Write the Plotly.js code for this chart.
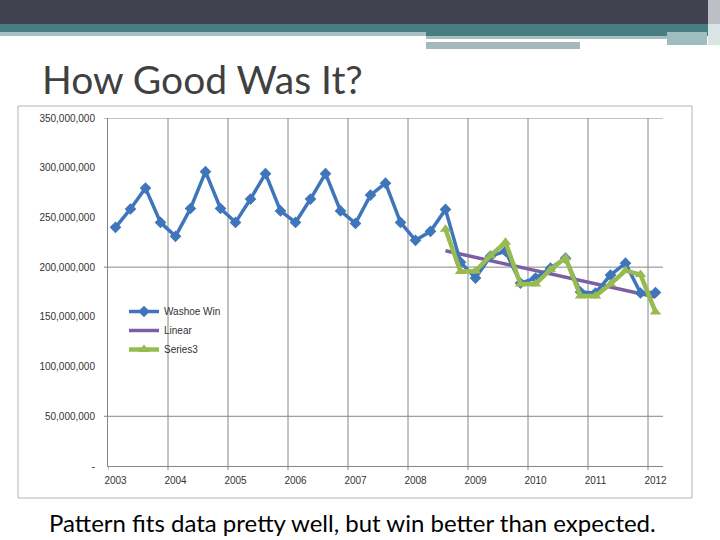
<!DOCTYPE html>
<html><head><meta charset="utf-8">
<script src="https://cdn.plot.ly/plotly-3.0.1.min.js"></script>
<style>html,body{margin:0;padding:0;background:#fff}#chart{width:720px;height:540px}</style>
</head><body><div id="chart"></div>
<script>
// ---- data ----
const years = ['2003','2004','2005','2006','2007','2008','2009','2010','2011','2012'];
const quartersPerYear = 4;
const washoeWin = [240e6, 258.5e6, 279.5e6, 245e6, 231e6, 259e6, 296e6, 259e6, 245e6, 268.5e6,
  294e6, 256.5e6, 245e6, 268.5e6, 294e6, 256.5e6, 244e6, 272.5e6, 284.5e6, 245e6,
  227e6, 236e6, 258e6, 205e6, 189e6, 211e6, 216e6, 184e6, 189e6, 199e6,
  209e6, 175e6, 174e6, 192e6, 204e6, 174e6, 174.5e6];
const series3 = [null, null, null, null, null, null, null, null, null, null,
  null, null, null, null, null, null, null, null, null, null,
  null, null, 238e6, 195.5e6, 196e6, 211.5e6, 225e6, 183e6, 183e6, 197.5e6,
  209.5e6, 171e6, 171e6, 183e6, 196.5e6, 192.5e6, 155e6];
const linearIdx = [22, 36];
const linearVals = [216.5e6, 170e6];
const yTickVals = [0, 50e6, 100e6, 150e6, 200e6, 250e6, 300e6, 350e6];
const yTickText = ['-', '50,000,000', '100,000,000', '150,000,000', '200,000,000', '250,000,000', '300,000,000', '350,000,000'];
const yGridVals = [50e6, 200e6, 350e6];
const titleText = 'How Good Was It?';
const captionText = 'Pattern fits data pretty well, but win better than expected.';

// ---- layout helpers (pixel -> paper) ----
const L = 108, R = 663, T = 118, B = 466;
const X = px => (px - L) / (R - L);
const Y = py => (B - py) / (B - T);
const idx = washoeWin.map((_, i) => i);
const nCat = washoeWin.length;
const yearIdx = years.map((_, i) => i * quartersPerYear);
const gray = '#868686';

const shapes = [];
function rect(x0, x1, y0, y1, fill, line) {
  shapes.push({type: 'rect', xref: 'paper', yref: 'paper', x0: X(x0), x1: X(x1), y0: Y(y0), y1: Y(y1),
    fillcolor: fill, line: line || {width: 0}, layer: 'below'});
}
// slide banner decoration
rect(0, 720, 0, 24, '#41424f');
rect(0, 426, 24, 32, '#467e82');
rect(426, 720, 24, 36, '#467e82');
rect(0, 426, 32, 36, '#a7c0c2');
rect(426, 667, 36, 39, '#a7bec0');
rect(426, 580, 42, 49, '#a5b9bb');
rect(667, 707, 32, 45, '#9fbdbf');
rect(708, 720, 0, 24, '#bdbfc6');
rect(708, 720, 24, 45, '#d9e4e4');
// chart frame
rect(18, 692, 106, 498, 'rgba(0,0,0,0)', {color: '#b4b4b4', width: 1});
// vertical gridlines at year boundaries and their ticks
for (let k = 1; k < years.length; k++) {
  const xv = k * quartersPerYear - 0.5;
  shapes.push({type: 'line', xref: 'x', yref: 'y', x0: xv, x1: xv, y0: 0, y1: 350e6, line: {color: gray, width: 1}, layer: 'below'});
}
for (let k = 0; k < years.length; k++) {
  const xv = k * quartersPerYear - 0.5;
  shapes.push({type: 'line', xref: 'x', yref: 'paper', x0: xv, x1: xv, y0: 0, y1: Y(470), line: {color: gray, width: 1}, layer: 'below'});
}
// horizontal gridlines
yGridVals.forEach(v => {
  shapes.push({type: 'line', xref: 'paper', yref: 'y', x0: X(104), x1: 1, y0: v, y1: v, line: {color: gray, width: 1}, layer: 'below'});
});

const traces = [
  {x: linearIdx, y: linearVals, name: 'Linear', mode: 'lines', legendrank: 2,
    line: {color: '#7b5ea3', width: 3.5}},
  {x: idx, y: washoeWin, name: 'Washoe Win', mode: 'lines+markers', legendrank: 1,
    line: {color: '#3f76bb', width: 3.5}, marker: {symbol: 'diamond', size: 9, color: '#3f76bb'}},
  {x: idx, y: series3, name: 'Series3', mode: 'lines+markers', legendrank: 3,
    line: {color: '#97bb51', width: 4.5}, marker: {symbol: 'triangle-up', size: 10, color: '#97bb51'}}
];

const layout = {
  width: 720, height: 540,
  margin: {l: L, r: 720 - R, t: T, b: 540 - B, pad: 0},
  paper_bgcolor: '#ffffff', plot_bgcolor: 'rgba(0,0,0,0)',
  showlegend: true,
  title: {text: titleText, x: 42 / 720, xanchor: 'left', xref: 'container', y: 1 - 80 / 540, yanchor: 'middle', yref: 'container',
    font: {family: 'Lato, "Open Sans", sans-serif', size: 39, color: '#404040'}},
  xaxis: {range: [-0.5, nCat - 0.5], tickmode: 'array', tickvals: yearIdx, ticktext: years,
    showgrid: false, zeroline: false, showline: true, linecolor: gray, linewidth: 1, ticks: '',
    ticklabelstandoff: 5, tickfont: {family: '"Liberation Sans", Arial, sans-serif', size: 10, color: '#333'}},
  yaxis: {range: [0, 350e6], tickmode: 'array', tickvals: yTickVals, ticktext: yTickText,
    showgrid: false, zeroline: false, showline: true, linecolor: gray, linewidth: 1, ticks: '',
    ticklabelstandoff: 10, tickfont: {family: '"Liberation Sans", Arial, sans-serif', size: 10, color: '#333'}},
  legend: {x: X(124), y: Y(297), xanchor: 'left', yanchor: 'top', bgcolor: 'rgba(0,0,0,0)',
    font: {family: '"Liberation Sans", Arial, sans-serif', size: 10, color: '#333'}, itemwidth: 30},
  shapes: shapes,
  annotations: [{text: captionText, xref: 'paper', yref: 'paper', x: X(47), y: Y(522), xanchor: 'left', yanchor: 'middle',
    showarrow: false, font: {family: 'Lato, "Open Sans", sans-serif', size: 24, color: '#000'}}]
};

Plotly.newPlot('chart', traces, layout, {displayModeBar: false, staticPlot: true});
</script>
</body></html>
